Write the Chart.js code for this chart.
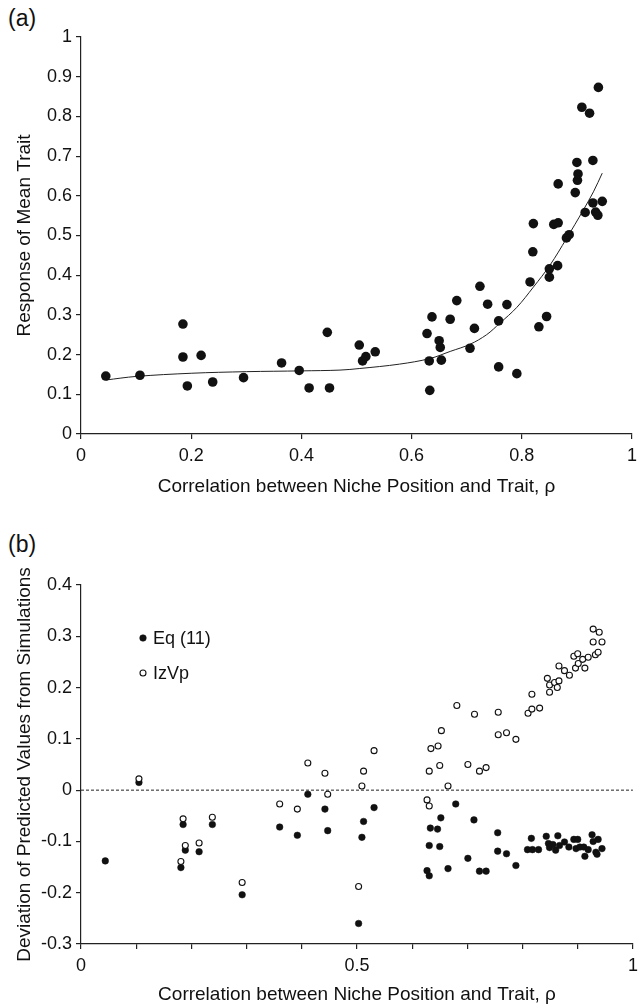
<!DOCTYPE html>
<html>
<head>
<meta charset="utf-8">
<script src="https://cdn.jsdelivr.net/npm/chart.js@4.4.0/dist/chart.umd.min.js"></script>
<style>
  html, body { margin: 0; padding: 0; background: #fff; }
  #page { position: relative; width: 638px; height: 1008px; overflow: hidden; }
  canvas { position: absolute; left: 0; }
  .panelTag { position: absolute; left: 8px; font: 23px "Liberation Sans", Arial, sans-serif; line-height: 1; color: #111; }
</style>
</head>
<body>
<div id="page">
  <div class="panelTag" style="top:7px">(a)</div>
  <canvas id="responseChart" width="638" height="500" style="top:0"></canvas>
  <div class="panelTag" style="top:533px">(b)</div>
  <canvas id="deviationChart" width="638" height="508" style="top:500px"></canvas>
</div>
<script>
// Panel (a) data: simulated response of the mean trait
const rhoA = [0.045, 0.107, 0.185, 0.185, 0.193, 0.218, 0.239, 0.295, 0.364, 0.396,
              0.414, 0.447, 0.451, 0.505, 0.511, 0.517, 0.534, 0.628, 0.632, 0.633,
              0.637, 0.650, 0.652, 0.654, 0.670, 0.682, 0.706, 0.714, 0.724, 0.738,
              0.758, 0.758, 0.773, 0.791, 0.815, 0.820, 0.821, 0.831, 0.845, 0.850,
              0.850, 0.858, 0.865, 0.866, 0.866, 0.881, 0.886, 0.897, 0.900, 0.901,
              0.902, 0.909, 0.915, 0.923, 0.929, 0.929, 0.934, 0.938, 0.939, 0.946];
const responseA = [0.146, 0.148, 0.277, 0.194, 0.121, 0.198, 0.131, 0.142, 0.179, 0.160,
                   0.116, 0.256, 0.116, 0.224, 0.184, 0.195, 0.207, 0.253, 0.184, 0.110,
                   0.295, 0.235, 0.218, 0.186, 0.289, 0.336, 0.216, 0.266, 0.372, 0.327,
                   0.285, 0.169, 0.326, 0.152, 0.383, 0.459, 0.530, 0.270, 0.296, 0.395,
                   0.416, 0.528, 0.424, 0.532, 0.630, 0.494, 0.502, 0.608, 0.684, 0.639,
                   0.655, 0.823, 0.558, 0.808, 0.582, 0.689, 0.559, 0.551, 0.873, 0.586];

// Fitted trend line
const trendRho = [0.045, 0.1, 0.2, 0.3, 0.4, 0.47, 0.506, 0.578, 0.633, 0.67,
                  0.706, 0.736, 0.76, 0.791, 0.821, 0.851, 0.881, 0.912, 0.93, 0.946];
const trendResponse = [0.136, 0.145, 0.153, 0.157, 0.159, 0.161, 0.165, 0.176, 0.190, 0.208,
                       0.226, 0.250, 0.279, 0.319, 0.370, 0.425, 0.492, 0.565, 0.610, 0.657];

// Panel (b) data: deviation of predictions from simulations
const rhoEq = [0.044, 0.105, 0.181, 0.185, 0.189, 0.214, 0.238, 0.292, 0.360, 0.392,
               0.411, 0.442, 0.447, 0.503, 0.509, 0.512, 0.531, 0.627, 0.631, 0.631,
               0.633, 0.646, 0.650, 0.652, 0.665, 0.679, 0.701, 0.712, 0.722, 0.734,
               0.755, 0.755, 0.771, 0.788, 0.809, 0.816, 0.818, 0.829, 0.843, 0.847,
               0.849, 0.855, 0.860, 0.864, 0.867, 0.876, 0.884, 0.893, 0.897, 0.900,
               0.904, 0.911, 0.913, 0.919, 0.926, 0.928, 0.933, 0.935, 0.937, 0.944];
const deviationEq = [-0.138, 0.015, -0.151, -0.067, -0.117, -0.120, -0.067, -0.204, -0.072, -0.088,
                     -0.008, -0.037, -0.079, -0.260, -0.092, -0.061, -0.034, -0.157, -0.167, -0.108,
                     -0.074, -0.076, -0.110, -0.054, -0.153, -0.027, -0.133, -0.058, -0.158, -0.158,
                     -0.083, -0.119, -0.124, -0.147, -0.116, -0.094, -0.116, -0.116, -0.090, -0.104,
                     -0.112, -0.106, -0.117, -0.089, -0.108, -0.101, -0.111, -0.096, -0.114, -0.096,
                     -0.111, -0.111, -0.129, -0.116, -0.087, -0.100, -0.121, -0.125, -0.096, -0.114];

const rhoIz = [0.105, 0.181, 0.185, 0.189, 0.214, 0.238, 0.292, 0.360, 0.392, 0.411,
               0.442, 0.447, 0.503, 0.509, 0.512, 0.531, 0.627, 0.631, 0.631, 0.634,
               0.647, 0.650, 0.653, 0.665, 0.681, 0.701, 0.713, 0.722, 0.734, 0.756,
               0.756, 0.771, 0.788, 0.810, 0.817, 0.817, 0.831, 0.845, 0.849, 0.849,
               0.858, 0.863, 0.866, 0.866, 0.876, 0.885, 0.893, 0.896, 0.900, 0.901,
               0.909, 0.913, 0.919, 0.928, 0.928, 0.932, 0.937, 0.939, 0.944];
const deviationIz = [0.022, -0.139, -0.056, -0.108, -0.103, -0.053, -0.180, -0.027, -0.037, 0.053,
                     0.033, -0.008, -0.188, 0.008, 0.037, 0.077, -0.019, -0.031, 0.037, 0.081,
                     0.086, 0.048, 0.116, 0.008, 0.165, 0.050, 0.148, 0.037, 0.044, 0.152,
                     0.108, 0.112, 0.099, 0.150, 0.158, 0.187, 0.160, 0.218, 0.205, 0.191,
                     0.210, 0.200, 0.213, 0.242, 0.233, 0.224, 0.261, 0.238, 0.266, 0.247,
                     0.255, 0.238, 0.259, 0.314, 0.289, 0.264, 0.269, 0.308, 0.289];

// Reference line at zero deviation
const zeroRho = [0, 1];
const zeroDeviation = [0, 0];

const toPoints = (xs, ys) => xs.map((x, i) => ({x: x, y: ys[i]}));
const fmtTick = v => String(Math.round(v * 10) / 10);

Chart.defaults.font.family = '"Liberation Sans", Arial, sans-serif';
Chart.defaults.font.size = 18;
Chart.defaults.color = '#111';

const axisInk = '#222';

// Legend drawn inside the plot area (panel b)
const insideLegend = {
    id: 'insideLegend',
    afterDatasetsDraw(chart, args, opts) {
        if (!opts || !opts.display) return;
        const ctx = chart.ctx;
        const area = chart.chartArea;
        ctx.save();
        ctx.font = '18px "Liberation Sans", Arial, sans-serif';
        ctx.textBaseline = 'middle';
        chart.data.datasets.filter(ds => ds.showInLegend).forEach((ds, i) => {
            const cx = area.left + opts.offsetX;
            const cy = area.top + opts.offsetY + i * opts.rowGap;
            ctx.beginPath();
            ctx.arc(cx, cy, ds.pointRadius, 0, 2 * Math.PI);
            ctx.fillStyle = ds.pointBackgroundColor;
            ctx.fill();
            ctx.lineWidth = ds.pointBorderWidth;
            ctx.strokeStyle = ds.pointBorderColor;
            ctx.stroke();
            ctx.fillStyle = '#111';
            ctx.fillText(ds.label, cx + opts.textGap, cy + 1);
        });
        ctx.restore();
    }
};

// Shared axis styling
function xAxis(step, height, labelFilter) {
    return {
        type: 'linear', min: 0, max: 1,
        ticks: {
            stepSize: step, padding: 6, maxRotation: 0, autoSkip: false,
            callback: v => labelFilter(v) ? fmtTick(v) : ''
        },
        grid: {drawOnChartArea: false, tickLength: 5, color: axisInk, lineWidth: 1.2},
        border: {color: axisInk, width: 1.2},
        title: {display: true, text: 'Correlation between Niche Position and Trait, ρ',
                font: {size: 19}, padding: {top: 4, bottom: 2}},
        afterFit: s => { s.height = height; s.paddingLeft = 0; s.paddingRight = 0; }
    };
}

function yAxis(min, max, text) {
    return {
        min: min, max: max,
        ticks: {stepSize: 0.1, padding: 4, callback: fmtTick},
        grid: {drawOnChartArea: false, tickLength: 5, color: axisInk, lineWidth: 1.2},
        border: {color: axisInk, width: 1.2},
        title: {display: true, text: text, font: {size: 19}, padding: {top: 13, bottom: 0}},
        afterFit: s => { s.width = 81; s.paddingTop = 0; s.paddingBottom = 0; }
    };
}

// Panel (a)
const responseConfig = {
    type: 'scatter',
    data: {
        datasets: [{
            label: 'Simulations',
            data: toPoints(rhoA, responseA),
            pointRadius: 4.8,
            pointBackgroundColor: '#111',
            pointBorderColor: '#111',
            pointBorderWidth: 0,
            order: 0
        }, {
            type: 'line',
            label: 'Trend',
            data: toPoints(trendRho, trendResponse),
            borderColor: '#222',
            borderWidth: 1,
            pointRadius: 0,
            tension: 0.35,
            fill: false,
            order: 1
        }]
    },
    options: {
        responsive: false,
        animation: false,
        layout: {padding: {top: 37, right: 6, left: 0, bottom: 0}},
        plugins: {legend: {display: false}, tooltip: {enabled: false}},
        scales: {
            x: xAxis(0.2, 66, () => true),
            y: yAxis(0, 1, 'Response of Mean Trait')
        }
    }
};

// Panel (b)
const deviationConfig = {
    type: 'scatter',
    data: {
        datasets: [{
            label: 'Eq (11)',
            showInLegend: true,
            data: toPoints(rhoEq, deviationEq),
            pointRadius: 3.3,
            pointBackgroundColor: '#111',
            pointBorderColor: '#111',
            pointBorderWidth: 0.5,
            order: 1
        }, {
            label: 'IzVp',
            showInLegend: true,
            data: toPoints(rhoIz, deviationIz),
            pointRadius: 3,
            pointBackgroundColor: '#fff',
            pointBorderColor: '#111',
            pointBorderWidth: 1.1,
            order: 0
        }, {
            type: 'line',
            label: '',
            data: toPoints(zeroRho, zeroDeviation),
            borderColor: '#222',
            borderWidth: 1,
            borderDash: [3, 2],
            pointRadius: 0,
            order: 2
        }]
    },
    options: {
        responsive: false,
        animation: false,
        layout: {padding: {top: 85, right: 0, left: 0, bottom: 0}},
        plugins: {
            legend: {display: false},
            tooltip: {enabled: false},
            insideLegend: {display: true, offsetX: 62, offsetY: 53, rowGap: 35, textGap: 10}
        },
        scales: {
            x: xAxis(0.1, 64, v => Math.abs(v * 2 - Math.round(v * 2)) < 1e-6),
            y: yAxis(-0.3, 0.4, 'Deviation of Predicted Values from Simulations')
        }
    },
    plugins: [insideLegend]
};

const responseChart = new Chart(document.getElementById('responseChart'), responseConfig);
const deviationChart = new Chart(document.getElementById('deviationChart'), deviationConfig);
</script>
</body>
</html>
